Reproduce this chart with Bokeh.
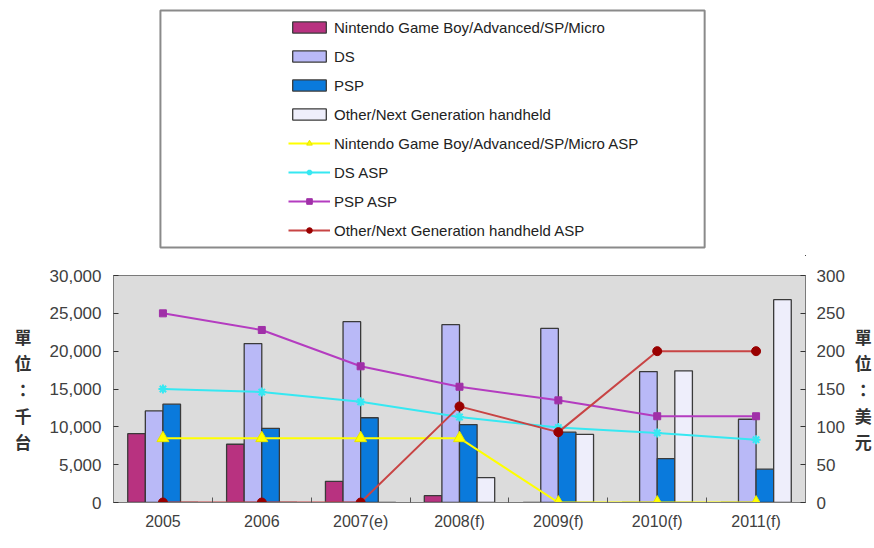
import numpy as np
from bokeh.plotting import figure
from bokeh.models import (Range1d, LinearAxis, FixedTicker, NumeralTickFormatter,
                          Legend, LegendItem)
from bokeh.layouts import column
from bokeh.embed import file_html
from bokeh.resources import INLINE

# ---------------- data ----------------
years = ["2005", "2006", "2007(e)", "2008(f)", "2009(f)", "2010(f)", "2011(f)"]
gb_units = [9100, 7700, 2800, 900, 0, 0, 0]
ds_units = [12100, 21000, 23900, 23500, 23000, 17300, 11000]
psp_units = [13000, 9800, 11200, 10300, 9300, 5800, 4400]
other_units = [0, 0, 0, 3300, 9000, 17400, 26800]
gb_asp = [85, 85, 85, 85, 0, 0, 0]
ds_asp = [150, 146, 133, 113, 99, 92, 83]
psp_asp = [250, 228, 180, 153, 135, 114, 114]
other_asp = [0, 0, 0, 127, 93, 200, 200]
unit_ticks = [0, 5000, 10000, 15000, 20000, 25000, 30000]
asp_ticks = [0, 50, 100, 150, 200, 250, 300]

bar_names = ["Nintendo Game Boy/Advanced/SP/Micro", "DS", "PSP",
             "Other/Next Generation handheld"]
line_names = ["Nintendo Game Boy/Advanced/SP/Micro ASP", "DS ASP", "PSP ASP",
              "Other/Next Generation handheld ASP"]

FONT = "Liberation Sans"
CJK = "Noto Sans CJK TC"
idx = np.arange(len(years))
BW = 0.178

# layout (canvas pixels)
W, H_TOP, H_MAIN = 874, 256, 292
B_LEFT, B_RIGHT = 113, 68
LEG_BOX = dict(left=160, right=705, top=10, bottom=247)


def add_series(fig, xr="default", yr_units="default", yr_asp="asp"):
    items = []
    bars = [gb_units, ds_units, psp_units, other_units]
    bcols = ["#B83280", "#B9B9F7", "#0A7ADC", "#EEEEFB"]
    offs = [-1.5, -0.5, 0.5, 1.5]
    for name, vals, col, o in zip(bar_names, bars, bcols, offs):
        r = fig.vbar(x=idx + o * BW, top=vals, bottom=0, width=BW,
                     fill_color=col, line_color="#3a3a3a", line_width=1.3,
                     x_range_name=xr, y_range_name=yr_units)
        items.append(LegendItem(label=name, renderers=[r]))
    specs = [
        (gb_asp, "#FFFF00", "triangle", 12, "#E6E600", "#FFFF00", 1),
        (ds_asp, "#36E8F2", "asterisk", 9, "#36E8F2", "#36E8F2", 2),
        (psp_asp, "#B43CC0", "square", 7, "#A030A8", "#A030A8", 1),
        (other_asp, "#C84444", "circle", 9, "#990000", "#990000", 1),
    ]
    for name, (vals, lc, mk, sz, mlc, mfc, mlw) in zip(line_names, specs):
        l = fig.line(x=idx, y=vals, x_range_name=xr, y_range_name=yr_asp,
                     line_color=lc, line_width=2)
        s = fig.scatter(x=idx, y=vals, x_range_name=xr, y_range_name=yr_asp,
                        marker=mk, size=sz, line_color=mlc, fill_color=mfc,
                        line_width=mlw)
        items.append(LegendItem(label=name, renderers=[l, s]))
    return items


# ---------------- legend panel ----------------
lf = figure(width=W, height=H_TOP, x_range=Range1d(B_LEFT, W - B_RIGHT),
            y_range=Range1d(H_TOP, 0), x_axis_type=None, y_axis_type=None,
            output_backend="svg", toolbar_location=None,
            min_border_left=B_LEFT, min_border_right=B_RIGHT,
            min_border_top=0, min_border_bottom=0)
# off-screen ranges: the legend's sample renderers are placed far outside the panel
lf.extra_x_ranges = {"hide": Range1d(-1000, -990)}
lf.extra_y_ranges = {"hide": Range1d(1e6, 1e6 + 10), "hide2": Range1d(1e6, 1e6 + 10)}
lf.grid.visible = False
lf.outline_line_color = None
lf.background_fill_color = "white"
lf.border_fill_color = "white"
items = add_series(lf, xr="hide", yr_units="hide", yr_asp="hide2")
lf.quad(left=[LEG_BOX["left"]], right=[LEG_BOX["right"]], top=[LEG_BOX["top"]],
        bottom=[LEG_BOX["bottom"]], fill_color="white", line_color="#8a8a8a",
        line_width=2)
leg = Legend(items=items, location=(175, 16), padding=0, margin=0,
             glyph_width=42, glyph_height=14, label_height=20, spacing=9,
             label_standoff=4, label_text_font=FONT, label_text_font_size="15px",
             label_text_color="#222222", border_line_alpha=0,
             background_fill_alpha=0)
lf.add_layout(leg)

# ---------------- chart ----------------
p = figure(width=W, height=H_MAIN, x_range=Range1d(-0.5, 6.5), y_range=Range1d(0, 30000),
           output_backend="svg", toolbar_location=None,
           min_border_left=B_LEFT, min_border_right=B_RIGHT, min_border_top=19,
           min_border_bottom=46)
p.extra_y_ranges = {"asp": Range1d(0, 300)}
p.background_fill_color = "#DCDCDC"
p.border_fill_color = "white"
p.outline_line_color = "#7a7a7a"
p.outline_line_width = 1
p.grid.visible = False
add_series(p)

# left axis
ya = p.yaxis[0]
ya.ticker = FixedTicker(ticks=unit_ticks)
ya.formatter = NumeralTickFormatter(format="0,0")
ya.axis_label = "單\n位\n：\n千\n台"
ya.axis_label_orientation = "horizontal"

# right axis
ra = LinearAxis(y_range_name="asp", ticker=FixedTicker(ticks=asp_ticks),
                axis_label="單\n位\n：\n美\n元")
ra.axis_label_orientation = "horizontal"
p.add_layout(ra, "right")

for ax in (ya, ra):
    ax.major_tick_in = 5
    ax.major_tick_out = 0
    ax.minor_tick_in = 0
    ax.minor_tick_out = 0
    ax.major_tick_line_color = "#333333"
    ax.axis_line_color = "#7a7a7a"
    ax.major_label_text_font = FONT
    ax.major_label_text_font_size = "17px"
    ax.major_label_text_color = "#404040"
    ax.axis_label_text_font = CJK
    ax.axis_label_text_font_size = "17px"
    ax.axis_label_text_font_style = "bold"
    ax.axis_label_text_color = "#333333"
    ax.axis_label_text_line_height = 1.05
ya.major_label_standoff = 12
ya.axis_label_standoff = 15
ra.major_label_standoff = 11
ra.axis_label_standoff = 7

# bottom axis
xa = p.xaxis[0]
xa.ticker = FixedTicker(ticks=list(idx), minor_ticks=list(idx[:-1] + 0.5))
xa.major_label_overrides = {int(i): y for i, y in zip(idx, years)}
xa.major_tick_in = 0
xa.major_tick_out = 0
xa.minor_tick_in = 5
xa.minor_tick_out = 0
xa.minor_tick_line_color = "#555555"
xa.axis_line_color = "#7a7a7a"
xa.major_label_standoff = 10
xa.major_label_text_font = FONT
xa.major_label_text_font_size = "16px"
xa.major_label_text_color = "#404040"

layout = column(lf, p, spacing=0)
open("out.html", "w").write(file_html(layout, INLINE))
